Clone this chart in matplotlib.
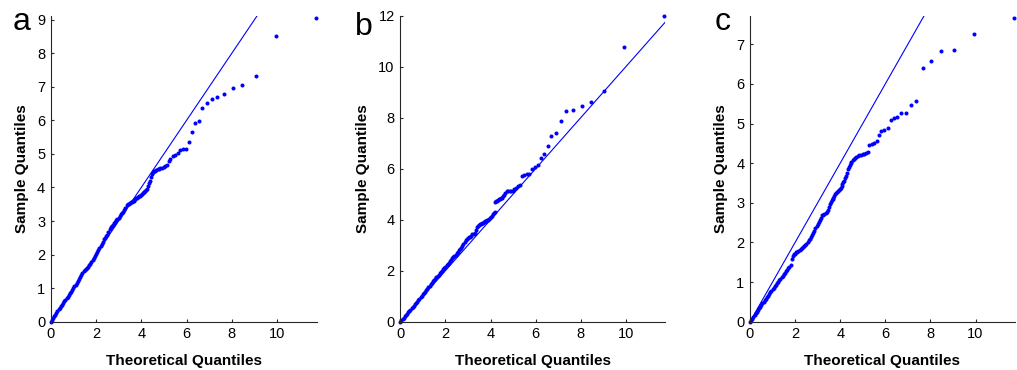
"""
QQ plots of three samples against theoretical quantiles (panels a, b, c).
Values read off the reference figure.
"""

import matplotlib
matplotlib.use("Agg")
import matplotlib.pyplot as plt

plt.rcParams['font.family'] = ['Liberation Sans', 'DejaVu Sans']

# shared theoretical quantiles (x axis of all three panels)
theoretical = [
    0.00, 0.05, 0.10, 0.15, 0.20, 0.25, 0.30, 0.35, 0.40, 0.45,
    0.50, 0.55, 0.60, 0.65, 0.70, 0.75, 0.80, 0.85, 0.90, 0.95,
    1.00, 1.05, 1.10, 1.15, 1.20, 1.25, 1.30, 1.35, 1.40, 1.45,
    1.50, 1.55, 1.60, 1.65, 1.70, 1.75, 1.80, 1.85, 1.90, 1.95,
    2.00, 2.05, 2.10, 2.15, 2.20, 2.25, 2.30, 2.35, 2.40, 2.45,
    2.50, 2.55, 2.60, 2.65, 2.70, 2.75, 2.80, 2.85, 2.90, 2.95,
    3.00, 3.05, 3.10, 3.15, 3.20, 3.25, 3.30, 3.35, 3.40, 3.45,
    3.50,
    3.54, 3.58, 3.62, 3.66, 3.70, 3.74, 3.78, 3.82, 3.86, 3.90,
    3.94, 3.98, 4.02, 4.06, 4.10, 4.14, 4.18, 4.22, 4.26, 4.30,
    4.34, 4.38, 4.42, 4.46, 4.50,
    4.55, 4.60, 4.66, 4.72, 4.78, 4.85, 4.92, 4.99, 5.06, 5.13,
    5.22, 5.29, 5.39, 5.50, 5.62, 5.72, 5.83, 5.96, 6.10, 6.23,
    6.37, 6.54, 6.69, 6.91, 7.12, 7.36, 7.66, 8.04, 8.46, 9.05,
    9.94, 11.71,
]

sample_a = [
    0.00, 0.05, 0.10, 0.16, 0.21, 0.27, 0.32, 0.37, 0.42, 0.46,
    0.51, 0.56, 0.61, 0.66, 0.71, 0.75, 0.80, 0.85, 0.90, 0.95,
    1.00, 1.05, 1.10, 1.16, 1.21, 1.26, 1.32, 1.38, 1.45, 1.50,
    1.53, 1.56, 1.60, 1.63, 1.68, 1.73, 1.78, 1.84, 1.90, 1.96,
    2.02, 2.08, 2.14, 2.20, 2.26, 2.31, 2.37, 2.45, 2.50, 2.54,
    2.59, 2.66, 2.75, 2.83, 2.86, 2.89, 2.93, 2.97, 3.02, 3.06,
    3.10, 3.16, 3.21, 3.25, 3.28, 3.32, 3.38, 3.47, 3.51, 3.52,
    3.54,
    3.56, 3.57, 3.59, 3.61, 3.63, 3.65, 3.68, 3.70, 3.72, 3.74,
    3.75, 3.78, 3.80, 3.83, 3.86, 3.88, 3.91, 3.93, 3.96, 4.03,
    4.12, 4.20, 4.30, 4.40, 4.46,
    4.48, 4.50, 4.52, 4.54, 4.56, 4.57, 4.59, 4.61, 4.63, 4.66,
    4.79, 4.86, 4.95, 4.96, 5.04, 5.12, 5.14, 5.15, 5.36, 5.65,
    5.93, 5.99, 6.36, 6.52, 6.65, 6.71, 6.80, 6.97, 7.04, 7.31,
    8.52, 9.06,
]

sample_b = [
    0.00, 0.05, 0.10, 0.16, 0.21, 0.26, 0.31, 0.37, 0.42, 0.47,
    0.53, 0.58, 0.63, 0.69, 0.74, 0.79, 0.85, 0.90, 0.96, 1.01,
    1.07, 1.12, 1.18, 1.23, 1.29, 1.35, 1.41, 1.46, 1.52, 1.58,
    1.64, 1.69, 1.74, 1.79, 1.85, 1.90, 1.95, 2.00, 2.05, 2.11,
    2.16, 2.21, 2.27, 2.32, 2.38, 2.43, 2.49, 2.54, 2.59, 2.63,
    2.68, 2.73, 2.80, 2.86, 2.90, 2.95, 3.03, 3.12, 3.20, 3.25,
    3.28, 3.31, 3.34, 3.38, 3.42, 3.45, 3.48, 3.60, 3.72, 3.75,
    3.79,
    3.82, 3.85, 3.87, 3.89, 3.91, 3.93, 3.95, 3.96, 3.98, 4.00,
    4.03, 4.07, 4.11, 4.16, 4.22, 4.28, 4.32, 4.68, 4.72, 4.75,
    4.78, 4.81, 4.83, 4.85, 4.87,
    4.92, 4.98, 5.05, 5.11, 5.13, 5.14, 5.14, 5.14, 5.20, 5.26,
    5.33, 5.38, 5.72, 5.77, 5.79, 5.81, 5.97, 6.06, 6.13, 6.40,
    6.56, 6.88, 7.28, 7.41, 7.88, 8.25, 8.32, 8.45, 8.63, 9.05,
    10.79, 12.00,
]

sample_c = [
    0.00, 0.04, 0.08, 0.13, 0.17, 0.21, 0.25, 0.30, 0.34, 0.38,
    0.42, 0.46, 0.50, 0.54, 0.58, 0.62, 0.66, 0.70, 0.74, 0.78,
    0.82, 0.86, 0.89, 0.93, 0.97, 1.01, 1.05, 1.08, 1.12, 1.16,
    1.20, 1.24, 1.28, 1.31, 1.35, 1.38, 1.44, 1.58, 1.67, 1.70,
    1.72, 1.75, 1.77, 1.79, 1.82, 1.84, 1.87, 1.89, 1.92, 1.94,
    1.97, 2.01, 2.05, 2.09, 2.13, 2.18, 2.23, 2.30, 2.36, 2.41,
    2.46, 2.51, 2.56, 2.62, 2.68, 2.70, 2.71, 2.73, 2.76, 2.82,
    2.90,
    2.96, 3.02, 3.06, 3.09, 3.12, 3.17, 3.21, 3.24, 3.26, 3.30,
    3.33, 3.35, 3.37, 3.42, 3.47, 3.52, 3.56, 3.62, 3.68, 3.76,
    3.84, 3.90, 3.96, 4.01, 4.04,
    4.08, 4.11, 4.14, 4.16, 4.18, 4.20, 4.21, 4.22, 4.23, 4.25,
    4.27, 4.46, 4.49, 4.52, 4.55, 4.72, 4.82, 4.84, 4.88, 5.09,
    5.13, 5.17, 5.26, 5.26, 5.47, 5.56, 6.41, 6.58, 6.84, 6.86,
    7.25, 7.67,
]

# reference line end points (same for every panel)
ref_x = [0.0, 11.75]
ref_y = [0.0, 11.75]

panel_letters = ['a', 'b', 'c']
samples = [sample_a, sample_b, sample_c]
y_max = [9.12, 12.0, 7.72]
y_ticks = [[0, 1, 2, 3, 4, 5, 6, 7, 8, 9],
           [0, 2, 4, 6, 8, 10, 12],
           [0, 1, 2, 3, 4, 5, 6, 7]]
x_ticks = [0, 2, 4, 6, 8, 10]

W, H = 1017, 370
fig = plt.figure(figsize=(W / 100, H / 100), dpi=100)

# axes boxes in pixels: left, right
ax_lr = [(50.7, 316.7), (400.3, 665.3), (750.0, 1015.0)]
ax_bottom, ax_top = 321.7, 15.7
# panel letter positions (left, baseline) in pixels
letter_pos = [(12.5, 29.5), (355.0, 35.0), (714.5, 30.0)]

for i in range(3):
    l, r = ax_lr[i]
    ax = fig.add_axes([l / W, 1 - ax_bottom / H, (r - l) / W, (ax_bottom - ax_top) / H])

    ax.plot(ref_x, ref_y, color='#0000ff', linewidth=0.8)
    ax.plot(theoretical, samples[i], linestyle='none', marker='o', markersize=2.9,
            markeredgewidth=0, color='#0000ff', clip_on=False)

    ax.set_xlim(0, 11.75)
    ax.set_ylim(0, y_max[i])
    ax.set_xticks(x_ticks)
    ax.set_yticks(y_ticks[i])

    for side in ['top', 'right']:
        ax.spines[side].set_visible(False)
    for side in ['left', 'bottom']:
        ax.spines[side].set_linewidth(0.8)
        ax.spines[side].set_color('#262626')

    ax.tick_params(direction='in', length=2.5, width=0.8, color='#262626',
                   labelsize=10.5, pad=4)

    ax.set_xlabel('Theoretical Quantiles', fontsize=11, fontweight='bold', labelpad=9)
    ax.set_ylabel('Sample Quantiles', fontsize=11, fontweight='bold', labelpad=6)

    lx, ly = letter_pos[i]
    fig.text(lx / W, 1 - ly / H, panel_letters[i], fontsize=23,
             ha='left', va='baseline')

fig.savefig('out.png', dpi=100)
